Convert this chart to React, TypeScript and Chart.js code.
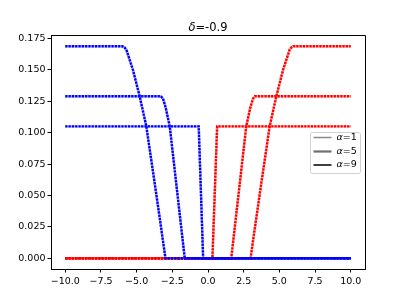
import React, { useEffect, useRef } from "react";
import { Chart, registerables } from "chart.js";

Chart.register(...registerables);

const xTicks = [-10, -7.5, -5, -2.5, 0, 2.5, 5, 7.5, 10];
const yTicks = [0, 0.025, 0.05, 0.075, 0.1, 0.125, 0.15, 0.175];

const blue1X = [-10, -0.65, -0.34, 10];
const blue1Y = [0.105, 0.105, 0, 0];
const blue5X = [-10, -3.3, -3.15, -2.96, -2.68, -2.33, -1.63, 10];
const blue5Y = [0.129, 0.129, 0.127, 0.1197, 0.105, 0.07, 0, 0];
const blue9X = [-10, -6.0, -5.85, -5.72, -5.26, -4.79, -4.32, -3.61, -2.98, 10];
const blue9Y = [0.1687, 0.1687, 0.1678, 0.166, 0.15, 0.129, 0.105, 0.05, 0, 0];

const red1X = [-10, 0.31, 0.64, 10];
const red1Y = [0, 0, 0.105, 0.105];
const red5X = [-10, 1.63, 2.33, 2.68, 2.96, 3.15, 3.3, 10];
const red5Y = [0, 0, 0.07, 0.105, 0.1197, 0.127, 0.129, 0.129];
const red9X = [-10, 2.98, 3.61, 4.32, 4.79, 5.26, 5.72, 5.85, 5.98, 10];
const red9Y = [0, 0, 0.05, 0.105, 0.129, 0.15, 0.166, 0.1678, 0.1687, 0.1687];

const legendLabels = ["1", "5", "9"];
const legendColors = ["#8a8a8a", "#6e6e6e", "#2a2a2a"];
const legendWidths = [1.5, 2.2, 1.8];

const FONT = "'DejaVu Sans', sans-serif";

const toPts = (xs: number[], ys: number[]) => xs.map((x, i) => ({ x, y: ys[i] }));

const fmt = (v: number, d: number) => v.toFixed(d).replace("-", "\u2212");

function makeSets(xs: number[], ys: number[], color: string, light: string) {
  const data = toPts(xs, ys);
  return [
    {
      data,
      borderColor: light,
      borderWidth: 2.4,
      pointRadius: 0,
      tension: 0,
      fill: false,
    },
    {
      data,
      borderColor: color,
      borderWidth: 2.4,
      borderDash: [2.2, 1.1],
      pointRadius: 0,
      tension: 0,
      fill: false,
    },
  ];
}

const framePlugin = {
  id: "framePlugin",
  afterDraw(chart: any) {
    const { ctx, chartArea } = chart;
    const { left, right, top, bottom } = chartArea;
    ctx.save();
    ctx.strokeStyle = "#000";
    ctx.lineWidth = 1;
    ctx.beginPath();
    ctx.moveTo(left, top + 0.5);
    ctx.lineTo(right + 0.5, top + 0.5);
    ctx.lineTo(right + 0.5, bottom);
    ctx.stroke();

    // title
    const t1 = "\u03b4";
    const t2 = "=-0.9";
    ctx.fillStyle = "#000";
    ctx.textBaseline = "alphabetic";
    ctx.font = `italic 11.5px ${FONT}`;
    const w1 = ctx.measureText(t1).width;
    ctx.font = `11.5px ${FONT}`;
    const w2 = ctx.measureText(t2).width;
    const cx = (left + right) / 2;
    const sx = cx - (w1 + w2) / 2;
    ctx.font = `italic 11.5px ${FONT}`;
    ctx.fillText(t1, sx, 31);
    ctx.font = `11.5px ${FONT}`;
    ctx.fillText(t2, sx + w1, 31);

    // legend
    const bx = 310.5, by = 132.5, bw = 50, bh = 41;
    ctx.fillStyle = "rgba(255,255,255,0.85)";
    ctx.strokeStyle = "#d0d0d0";
    ctx.lineWidth = 1;
    ctx.beginPath();
    if (ctx.roundRect) ctx.roundRect(bx, by, bw, bh, 2);
    else ctx.rect(bx, by, bw, bh);
    ctx.fill();
    ctx.stroke();
    const rows = [137.5, 151.5, 165];
    legendLabels.forEach((lab, i) => {
      const yy = rows[i];
      ctx.strokeStyle = legendColors[i];
      ctx.lineWidth = legendWidths[i];
      ctx.beginPath();
      ctx.moveTo(313.5, yy);
      ctx.lineTo(331.5, yy);
      ctx.stroke();
      ctx.fillStyle = "#000";
      ctx.textBaseline = "middle";
      ctx.font = `italic 9.5px ${FONT}`;
      ctx.fillText("\u03b1", 336.5, yy);
      const wa = ctx.measureText("\u03b1").width;
      ctx.font = `9.5px ${FONT}`;
      ctx.fillText("=" + lab, 336.5 + wa, yy);
    });
    ctx.restore();
  },
};

export default function App() {
  const ref = useRef<HTMLCanvasElement>(null);
  useEffect(() => {
    if (!ref.current) return;
    const B = "#0000ff", BL = "rgba(0,0,255,0.35)";
    const R = "#ff0000", RL = "rgba(255,0,0,0.35)";
    const datasets = [
      ...makeSets(blue1X, blue1Y, B, BL),
      ...makeSets(blue5X, blue5Y, B, BL),
      ...makeSets(blue9X, blue9Y, B, BL),
      ...makeSets(red1X, red1Y, R, RL),
      ...makeSets(red5X, red5Y, R, RL),
      ...makeSets(red9X, red9Y, R, RL),
    ];
    const chart = new Chart(ref.current, {
      type: "line",
      data: { datasets } as any,
      plugins: [framePlugin],
      options: {
        animation: false,
        responsive: false,
        layout: { padding: { left: 0, right: 40, top: 35, bottom: 0 } },
        plugins: {
          legend: { display: false },
          tooltip: { enabled: false },
          title: { display: false },
        },
        scales: {
          x: {
            type: "linear",
            min: -11,
            max: 11,
            afterBuildTicks: (s: any) => {
              s.ticks = xTicks.map((v) => ({ value: v }));
            },
            afterFit: (s: any) => {
              s.height = 34;
            },
            grid: { drawOnChartArea: false, drawTicks: true, tickLength: 3.5, color: "#000" },
            border: { display: true, color: "#000", width: 1 },
            ticks: {
              autoSkip: false,
              maxRotation: 0,
              padding: 3,
              color: "#000",
              font: { family: FONT, size: 9.5 },
              callback: (v: any) => fmt(Number(v), 1),
            },
          },
          y: {
            type: "linear",
            min: -0.0085,
            max: 0.1777,
            afterBuildTicks: (s: any) => {
              s.ticks = yTicks.map((v) => ({ value: v }));
            },
            afterFit: (s: any) => {
              s.width = 51;
            },
            grid: { drawOnChartArea: false, drawTicks: true, tickLength: 3.5, color: "#000" },
            border: { display: true, color: "#000", width: 1 },
            ticks: {
              autoSkip: false,
              padding: 2,
              color: "#000",
              font: { family: FONT, size: 9.5 },
              callback: (v: any) => fmt(Number(v), 3),
            },
          },
        },
      } as any,
    });
    return () => chart.destroy();
  }, []);
  return (
    <div style={{ position: "absolute", left: 0, top: 0, width: 405, height: 303, background: "#fff" }}>
      <canvas ref={ref} width={405} height={303} style={{ display: "block" }} />
    </div>
  );
}
